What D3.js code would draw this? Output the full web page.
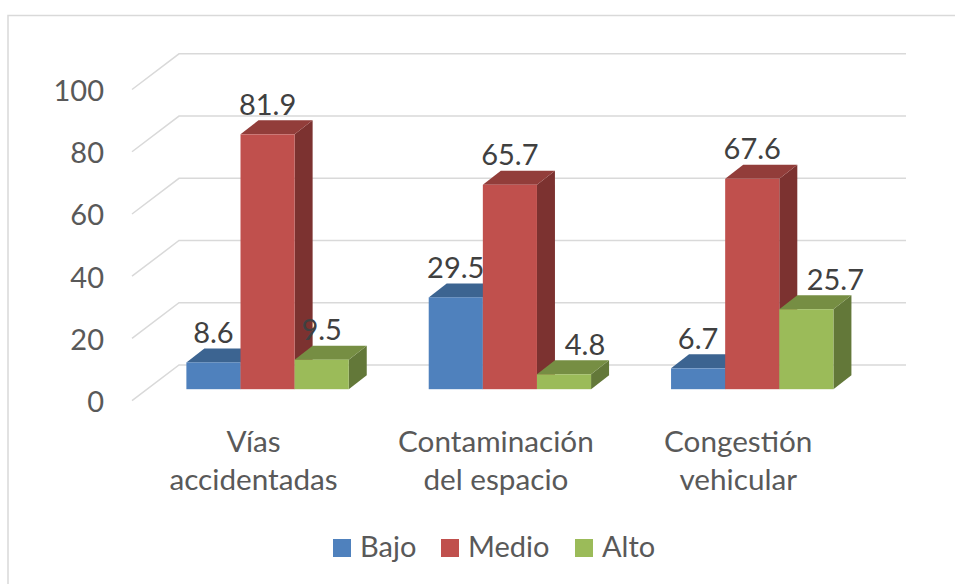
<!DOCTYPE html>
<html>
<head>
<meta charset="utf-8">
<script src="https://cdn.jsdelivr.net/npm/d3@7"></script>
<style>
body { margin: 0; background: #fff; }
text { font-family: Lato, "Open Sans", sans-serif; }
</style>
</head>
<body>
<svg id="chart" width="955" height="584"></svg>
<script>
var categories = [["Vías", "accidentadas"], ["Contaminación", "del espacio"], ["Congestión", "vehicular"]];
var seriesNames = ["Bajo", "Medio", "Alto"];
var bajo = [8.6, 29.5, 6.7];
var medio = [81.9, 65.7, 67.6];
var alto = [9.5, 4.8, 25.7];
var yTicks = [0, 20, 40, 60, 80, 100];

var seriesValues = [bajo, medio, alto];
var colors = {
    Bajo: { front: "#4f81bd", top: "#3c6491", side: "#335579" },
    Medio: { front: "#c0504d", top: "#923d3a", side: "#7c3230" },
    Alto: { front: "#9bbb59", top: "#768e43", side: "#637839" }
};

var depth = { x: 18, y: 14 };
var floor = { frontX: 132, backX: 179, frontY: 400.7, backY: 365, right: 906 };
var fontSize = "29px";

var svg = d3.select("#chart");

//outer frame of the chart
svg.append("path")
    .attr("d", "M8,584V15.5H955")
    .attr("fill", "none")
    .attr("stroke", "#d9d9d9")
    .attr("stroke-width", 1.5);

//scales: bars stand a third of the way into the floor
var unit = 311.2;
var yFront = d3.scaleLinear().domain([0, 100]).range([floor.frontY, floor.frontY - unit]);
var yBack = d3.scaleLinear().domain([0, 100]).range([floor.backY, floor.backY - unit]);
var yBar = d3.scaleLinear().domain([0, 100]).range([389.2, 389.2 - unit]);

var xCat = d3.scaleBand()
    .domain(d3.range(categories.length))
    .range([146.4, 873.4])
    .paddingInner(0.33)
    .paddingOuter(0.165);
var xSeries = d3.scaleBand()
    .domain(seriesNames)
    .range([0, xCat.bandwidth()]);

//grid lines, diagonal part on the side wall and then along the back wall
svg.append("g").selectAll("path")
    .data(yTicks)
    .enter()
    .append("path")
    .attr("d", (t) => `M${floor.frontX},${yFront(t)}L${floor.backX},${yBack(t)}H${floor.right}`)
    .attr("fill", "none")
    .attr("stroke", "#d9d9d9")
    .attr("stroke-width", 1.5);

//y axis labels
var yAxis = svg.append("g")
    .attr("transform", `translate(${floor.frontX - 1}, 1.5)`)
    .call(d3.axisLeft(yFront).tickValues(yTicks).tickSize(0).tickPadding(27));
yAxis.select(".domain").remove();
yAxis.selectAll("text")
    .attr("fill", "#595959")
    .style("font-size", fontSize);

//bars, one group per category
var bars = [];
categories.forEach((c, i) => {
    seriesNames.forEach((s, j) => {
        bars.push({ cat: i, name: s, value: seriesValues[j][i] });
    });
});

var bar = svg.append("g").selectAll("g")
    .data(bars)
    .enter()
    .append("g");

var left = (d) => xCat(d.cat) + xSeries(d.name);
var right = (d) => left(d) + xSeries.bandwidth();

bar.append("path")
    .attr("fill", (d) => colors[d.name].side)
    .attr("d", (d) => `M${right(d)},${yBar(d.value)}l${depth.x},${-depth.y}V${yBar(0) - depth.y}L${right(d)},${yBar(0)}Z`);

bar.append("path")
    .attr("fill", (d) => colors[d.name].top)
    .attr("d", (d) => `M${left(d)},${yBar(d.value)}l${depth.x},${-depth.y}H${right(d) + depth.x}L${right(d)},${yBar(d.value)}Z`);

bar.append("rect")
    .attr("fill", (d) => colors[d.name].front)
    .attr("x", left)
    .attr("y", (d) => yBar(d.value))
    .attr("width", xSeries.bandwidth())
    .attr("height", (d) => yBar(0) - yBar(d.value));

//labels go on top of all the bars, some were moved by hand in the original
var labelShift = { "2-Alto": 29, "1-Alto": 21 };

svg.append("g").selectAll("text")
    .data(bars)
    .enter()
    .append("text")
    .attr("text-anchor", "middle")
    .attr("fill", "#404040")
    .style("font-size", fontSize)
    .attr("x", (d) => left(d) + xSeries.bandwidth() / 2 + (labelShift[d.cat + "-" + d.name] || 0))
    .attr("y", (d) => yBar(d.value) - depth.y - 5.5)
    .text((d) => d.value);

//category labels
var catLabel = svg.append("g").selectAll("text")
    .data(categories)
    .enter()
    .append("text")
    .attr("text-anchor", "middle")
    .attr("fill", "#595959")
    .style("font-size", "29.7px")
    .attr("transform", (c, i) => `translate(${xCat(i) + xCat.bandwidth() / 2 - 14}, 452)`);

catLabel.selectAll("tspan")
    .data((c) => c)
    .enter()
    .append("tspan")
    .attr("x", 0)
    .attr("y", (l, i) => i * 38)
    .text((l) => l);

//legend
var legendX = d3.scaleOrdinal().domain(seriesNames).range([333, 441, 575]);
var legend = svg.append("g").selectAll("g")
    .data(seriesNames)
    .enter()
    .append("g")
    .attr("transform", (s) => `translate(${legendX(s)}, 539)`);

legend.append("rect")
    .attr("width", 18)
    .attr("height", 18)
    .attr("fill", (s) => colors[s].front);

legend.append("text")
    .attr("x", 27)
    .attr("y", 18)
    .attr("fill", "#595959")
    .style("font-size", fontSize)
    .text((s) => s);
</script>
</body>
</html>
